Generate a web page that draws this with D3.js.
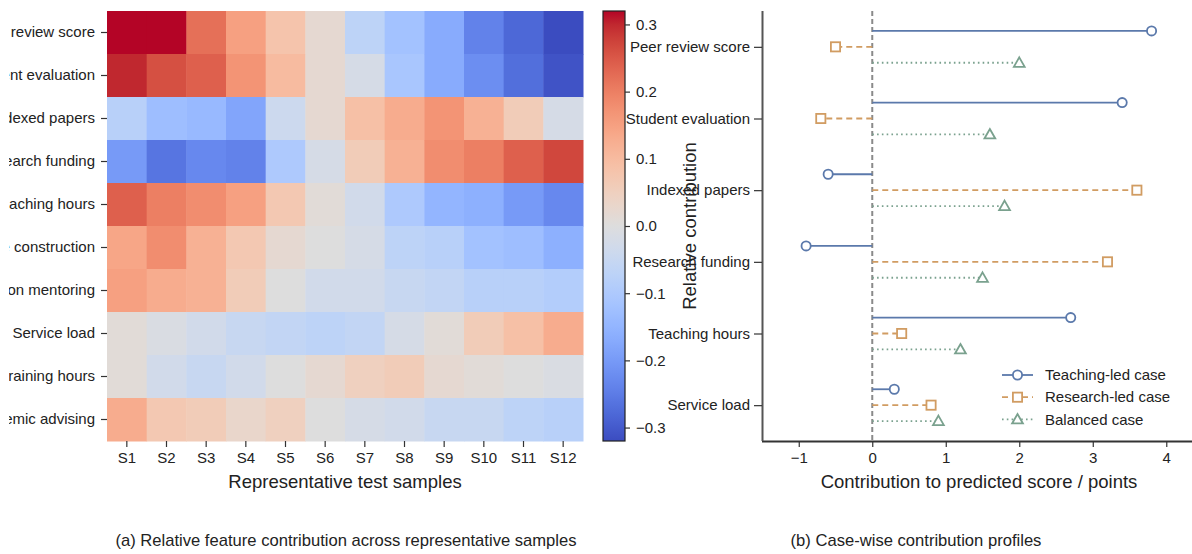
<!DOCTYPE html>
<html>
<head>
<meta charset="utf-8">
<script src="https://cdn.jsdelivr.net/npm/d3@7"></script>
<style>
  html, body { margin: 0; padding: 0; background: #fff; }
  svg { display: block; font-family: "Liberation Sans", Arial, Helvetica, sans-serif; }
</style>
</head>
<body>
<svg id="chart" width="1192" height="554"></svg>
<script>
// ---------------- data ----------------
const features = ["Peer review score", "Student evaluation", "Indexed papers", "Research funding",
  "Teaching hours", "Course construction", "Competition mentoring", "Service load",
  "Training hours", "Academic advising"];
const samples = ["S1","S2","S3","S4","S5","S6","S7","S8","S9","S10","S11","S12"];
const rowPeer      = [0.34, 0.33, 0.22, 0.15, 0.08, 0.02, -0.07, -0.12, -0.17, -0.24, -0.28, -0.33];
const rowStudent   = [0.30, 0.26, 0.24, 0.17, 0.10, 0.02, -0.02, -0.11, -0.17, -0.22, -0.27, -0.31];
const rowIndexed   = [-0.08, -0.13, -0.14, -0.18, -0.04, 0.02, 0.09, 0.13, 0.17, 0.12, 0.06, -0.02];
const rowFunding   = [-0.20, -0.26, -0.23, -0.24, -0.10, -0.02, 0.06, 0.12, 0.18, 0.20, 0.24, 0.27];
const rowTeaching  = [0.24, 0.20, 0.18, 0.15, 0.07, 0.01, -0.03, -0.10, -0.15, -0.16, -0.20, -0.23];
const rowCourse    = [0.14, 0.18, 0.12, 0.07, 0.02, 0.00, -0.02, -0.07, -0.08, -0.12, -0.13, -0.16];
const rowMentoring = [0.15, 0.13, 0.12, 0.06, 0.00, -0.03, -0.03, -0.05, -0.06, -0.08, -0.08, -0.09];
const rowService   = [0.01, -0.01, -0.03, -0.05, -0.06, -0.07, -0.06, -0.02, 0.01, 0.06, 0.09, 0.13];
const rowTraining  = [0.01, -0.03, -0.05, -0.03, 0.00, 0.02, 0.05, 0.06, 0.02, 0.01, 0.00, -0.01];
const rowAdvising  = [0.13, 0.07, 0.06, 0.03, 0.05, 0.00, -0.02, -0.03, -0.05, -0.05, -0.07, -0.08];
const heatRows = [rowPeer, rowStudent, rowIndexed, rowFunding, rowTeaching, rowCourse,
  rowMentoring, rowService, rowTraining, rowAdvising];
const colorTicks = [-0.3, -0.2, -0.1, 0.0, 0.1, 0.2, 0.3];
const colorLimit = 0.32;

const cases = ["Peer review score", "Student evaluation", "Indexed papers", "Research funding",
  "Teaching hours", "Service load"];
const teachingLed = [3.8, 3.4, -0.6, -0.9, 2.7, 0.3];
const researchLed = [-0.5, -0.7, 3.6, 3.2, 0.4, 0.8];
const balancedCase = [2.0, 1.6, 1.8, 1.5, 1.2, 0.9];
const seriesNames = ["Teaching-led case", "Research-led case", "Balanced case"];
const contribTicks = [-1, 0, 1, 2, 3, 4];

// ---------------- coolwarm colormap ----------------
const coolwarmStops = [
 [59,76,192],[68,90,204],[77,104,215],[87,117,225],[98,130,234],[108,142,241],[119,154,247],
 [130,165,251],[141,176,254],[152,185,255],[163,194,255],[174,201,253],[184,208,249],[194,213,244],
 [204,217,238],[213,219,230],[221,221,221],[229,216,209],[236,211,197],[241,204,184],[245,196,172],
 [247,187,160],[247,177,148],[247,166,135],[244,154,123],[241,141,111],[236,127,99],[229,112,88],
 [222,96,77],[213,80,66],[203,62,56],[192,40,47],[180,4,38]].map(c => d3.rgb(c[0], c[1], c[2]).toString());
const coolwarm = d3.piecewise(d3.interpolateRgb, coolwarmStops);
const color = d3.scaleSequential(coolwarm).domain([-colorLimit, colorLimit]).clamp(true);

const svg = d3.select("#chart");
const FONT_TICK = 15, FONT_LABEL = 18.5, FONT_CAP = 16.6;

const defs = svg.append("defs");
defs.append("clipPath").attr("id", "leftclip")
  .append("rect").attr("x", 9).attr("y", 0).attr("width", 200).attr("height", 554);

// ---------------- heatmap ----------------
const hm = { left: 107, right: 583, top: 11, bottom: 441 };
const hx = d3.scaleBand().domain(samples).range([hm.left, hm.right]);
const hy = d3.scaleBand().domain(features).range([hm.top, hm.bottom]);

const cells = [];
heatRows.forEach((row, i) => row.forEach((v, j) => cells.push({ f: features[i], s: samples[j], v })));
svg.append("g").selectAll("rect").data(cells).join("rect")
  .attr("x", d => hx(d.s)).attr("y", d => hy(d.f))
  .attr("width", hx.bandwidth() + 0.5).attr("height", hy.bandwidth() + 0.5)
  .attr("fill", d => color(d.v));

const hxAxis = svg.append("g").attr("transform", `translate(0,${hm.bottom})`)
  .call(d3.axisBottom(hx).tickSize(6).tickPadding(5));
hxAxis.select(".domain").remove();
const hyAxis = svg.append("g").attr("clip-path", "url(#leftclip)")
  .append("g").attr("transform", `translate(${hm.left},0)`)
  .call(d3.axisLeft(hy).tickSize(6).tickPadding(6));
hyAxis.select(".domain").remove();
[hxAxis, hyAxis].forEach(a => {
  a.selectAll("text").attr("font-size", FONT_TICK).attr("fill", "#222").attr("font-family", null);
  a.selectAll("line").attr("stroke", "#333").attr("stroke-width", 1.2);
});
svg.append("text").attr("x", (hm.left + hm.right) / 2).attr("y", 488)
  .attr("text-anchor", "middle").attr("font-size", FONT_LABEL).attr("fill", "#222")
  .text("Representative test samples");

// ---------------- colorbar ----------------
const cb = { left: 603, width: 22, top: 11, bottom: 441 };
const cy = d3.scaleLinear().domain([-colorLimit, colorLimit]).range([cb.bottom, cb.top]);
const grad = defs.append("linearGradient").attr("id", "cbgrad")
  .attr("x1", 0).attr("y1", 1).attr("x2", 0).attr("y2", 0);
d3.range(0, 1.0001, 1 / 64).forEach(t => {
  grad.append("stop").attr("offset", t).attr("stop-color", coolwarm(t));
});
svg.append("rect").attr("x", cb.left).attr("y", cb.top).attr("width", cb.width)
  .attr("height", cb.bottom - cb.top).attr("fill", "url(#cbgrad)")
  .attr("stroke", "#222").attr("stroke-width", 1.2);
const cbAxis = svg.append("g").attr("transform", `translate(${cb.left + cb.width},0)`)
  .call(d3.axisRight(cy).tickValues(colorTicks).tickSize(5).tickPadding(6)
    .tickFormat(d => d3.format(".1f")(d).replace("-", "\u2212")));
cbAxis.select(".domain").remove();
cbAxis.selectAll("text").attr("font-size", FONT_TICK).attr("fill", "#222").attr("font-family", null);
cbAxis.selectAll("line").attr("stroke", "#333").attr("stroke-width", 1.2);
svg.append("text").attr("transform", `translate(696,${(cb.top + cb.bottom) / 2}) rotate(-90)`)
  .attr("text-anchor", "middle").attr("font-size", FONT_LABEL).attr("fill", "#222")
  .text("Relative contribution");

// ---------------- lollipop panel ----------------
const lp = { left: 762, right: 1192, top: 11, bottom: 441 };
const lx = d3.scaleLinear().domain([-1.5, 4.35]).range([lp.left, lp.right]);
const ly = d3.scaleLinear().domain([-0.5, cases.length - 0.5]).range([lp.top, lp.bottom]);
const offset = 0.222;

const seriesDefs = [
  { name: seriesNames[0], vals: teachingLed, off: -offset, color: "#5b79ab", dash: null, marker: "circle" },
  { name: seriesNames[1], vals: researchLed, off: 0, color: "#d19c62", dash: "6,4", marker: "square" },
  { name: seriesNames[2], vals: balancedCase, off: offset, color: "#7aa18e", dash: "1.6,3.2", marker: "triangle" }
];

// zero line
svg.append("line").attr("x1", lx(0)).attr("x2", lx(0)).attr("y1", lp.top).attr("y2", lp.bottom)
  .attr("stroke", "#8a8a8a").attr("stroke-width", 2).attr("stroke-dasharray", "5,3");

function drawMarker(g, type, x, y, c) {
  if (type === "circle") {
    g.append("circle").attr("cx", x).attr("cy", y).attr("r", 4.6)
      .attr("fill", "#fff").attr("stroke", c).attr("stroke-width", 1.8);
  } else if (type === "square") {
    g.append("rect").attr("x", x - 4.6).attr("y", y - 4.6).attr("width", 9.2).attr("height", 9.2)
      .attr("fill", "#fff").attr("stroke", c).attr("stroke-width", 1.8);
  } else {
    const s = 5.4;
    g.append("path").attr("d", `M${x},${y - s}L${x + s},${y + s * 0.75}L${x - s},${y + s * 0.75}Z`)
      .attr("fill", "#fff").attr("stroke", c).attr("stroke-width", 1.8);
  }
}

const pg = svg.append("g");
seriesDefs.forEach(sd => {
  sd.vals.forEach((v, i) => {
    const y = ly(i + sd.off);
    pg.append("line").attr("x1", lx(0)).attr("x2", lx(v)).attr("y1", y).attr("y2", y)
      .attr("stroke", sd.color).attr("stroke-width", 1.8)
      .attr("stroke-dasharray", sd.dash);
  });
  sd.vals.forEach((v, i) => drawMarker(pg, sd.marker, lx(v), ly(i + sd.off), sd.color));
});

const lxAxis = svg.append("g").attr("transform", `translate(0,${lp.bottom})`)
  .call(d3.axisBottom(lx).tickValues(contribTicks).tickSize(6).tickPadding(5)
    .tickFormat(d => String(d).replace("-", "\u2212")));
lxAxis.select(".domain").attr("stroke", "#333").attr("stroke-width", 1.8).attr("d", `M${lp.left},0.5H${lp.right}`);
const lyAxis = svg.append("g").attr("transform", `translate(${lp.left},0)`)
  .call(d3.axisLeft(ly).tickValues(d3.range(cases.length)).tickSize(8).tickPadding(4)
    .tickFormat(i => cases[i]));
lyAxis.select(".domain").attr("stroke", "#555").attr("stroke-width", 2).attr("d", `M0.5,${lp.top}V${lp.bottom}`);
[lxAxis, lyAxis].forEach(a => {
  a.selectAll("text").attr("font-size", FONT_TICK).attr("fill", "#222").attr("font-family", null);
  a.selectAll(".tick line").attr("stroke", "#333").attr("stroke-width", 1.2);
});
svg.append("text").attr("x", (lp.left + lp.right) / 2 + 2).attr("y", 488)
  .attr("text-anchor", "middle").attr("font-size", FONT_LABEL).attr("fill", "#222")
  .text("Contribution to predicted score / points");

// legend
const lg = svg.append("g");
seriesDefs.forEach((sd, k) => {
  const y = 375 + k * 22.2;
  lg.append("line").attr("x1", 1002).attr("x2", 1033).attr("y1", y).attr("y2", y)
    .attr("stroke", sd.color).attr("stroke-width", 1.8).attr("stroke-dasharray", sd.dash);
  drawMarker(lg, sd.marker, 1017.5, y, sd.color);
  lg.append("text").attr("x", 1045).attr("y", y).attr("dy", "0.35em")
    .attr("font-size", FONT_TICK).attr("fill", "#222").text(sd.name);
});

// captions
svg.append("text").attr("x", 346).attr("y", 546).attr("text-anchor", "middle")
  .attr("font-size", FONT_CAP).attr("fill", "#222")
  .text("(a) Relative feature contribution across representative samples");
svg.append("text").attr("x", 916).attr("y", 546).attr("text-anchor", "middle")
  .attr("font-size", FONT_CAP).attr("fill", "#222")
  .text("(b) Case-wise contribution profiles");
</script>
</body>
</html>
